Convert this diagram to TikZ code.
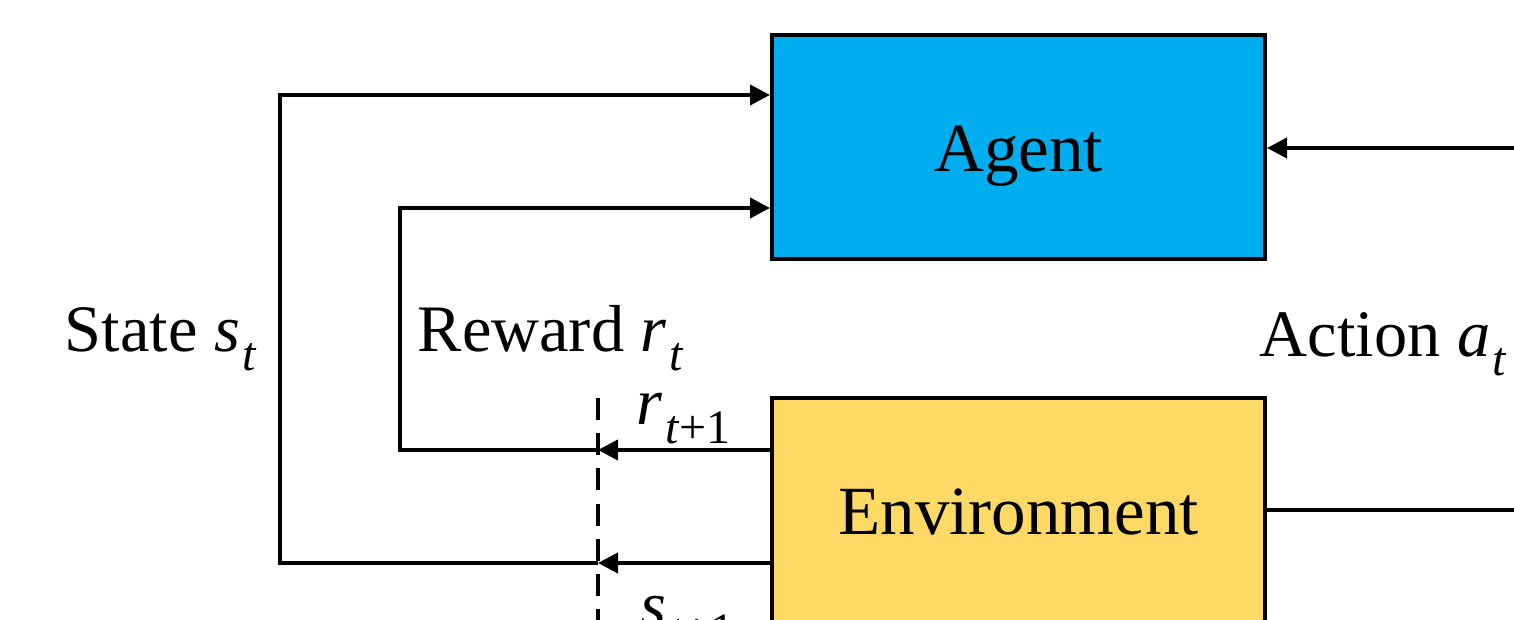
\documentclass[tikz,border=0pt]{standalone}
\usepackage{fontspec}
\setmainfont{Liberation Serif}
\usetikzlibrary{arrows.meta}
\definecolor{agentblue}{RGB}{0,174,239}
\definecolor{envyellow}{RGB}{255,217,102}
\newcommand\isub[2]{\textit{#1}\kern0.6pt\raisebox{-0.6ex}{\fontsize{12}{12}\selectfont#2}}
\newcommand\boxtext[1]{\raisebox{-6.25pt}[0pt][0pt]{#1}}
\tikzset{
  box/.style={draw=black, line width=1pt, minimum width=123.25pt, minimum height=56pt, inner sep=0pt, font=\fontsize{17.25}{20}\selectfont},
  conn/.style={line width=1pt},
  arr/.style={conn, -{Triangle[length=5pt,width=5pt]}},
  lbl/.style={inner sep=0pt, font=\fontsize{16.6}{18}\selectfont},
}
\begin{document}
\begin{tikzpicture}[x=0.25pt,y=-0.25pt]
\clip (0,0) rectangle (1514,620);
\fill[white] (0,0) rectangle (1514,620);
\node[box, fill=agentblue] (agent) at (1018.5,147) {\boxtext{Agent}};
\node[box, fill=envyellow] (env) at (1018.5,510) {\boxtext{Environment}};
% dashed line
\coordinate (dtop) at (598,398);
\coordinate (dbot) at (598,640);
\draw[conn, dash pattern=on 5.5pt off 3.3pt] (dtop) -- (dbot);
% reward path
\coordinate (rd) at (598,450);
\coordinate (rc1) at (400,450);
\coordinate (rc2) at (400,208);
\draw[arr] (env.west |- rd) -- (rd);
\draw[arr] (rd) -- (rc1) -- (rc2) -- (agent.west |- rc2);
% state path
\coordinate (sd) at (598,563);
\coordinate (sc1) at (280,563);
\coordinate (sc2) at (280,95);
\draw[arr] (env.west |- sd) -- (sd);
\draw[arr] (sd) -- (sc1) -- (sc2) -- (agent.west |- sc2);
% action path
\coordinate (ar1) at (1560,510);
\coordinate (ar2) at (1560,148);
\draw[arr] (env.east) -- (ar1) -- (ar2) -- (agent.east |- ar2);
% labels
\node[lbl, anchor=base west] (lstate) at (64,352) {State \isub{s}{\textit{t}}};
\node[lbl, anchor=base west] (lreward) at (417,352) {Reward \isub{r}{\textit{t}}};
\node[lbl, anchor=base west] (laction) at (1259,357) {Action \isub{a}{\textit{t}}};
\node[lbl, anchor=base west] (lr1) at (636,425) {\isub{r}{\textit{t}+1}};
\node[lbl, anchor=base west] (ls1) at (640,628) {\isub{s}{\textit{t}+1}};
\end{tikzpicture}
\end{document}
